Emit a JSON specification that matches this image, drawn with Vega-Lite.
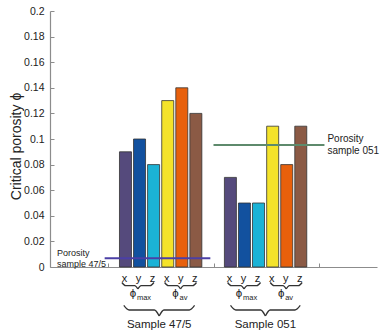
{
  "$schema": "https://vega.github.io/schema/vega-lite/v6.json",
  "width": 327,
  "height": 256,
  "autosize": {"type": "none"},
  "padding": {"left": 50, "top": 11, "right": 13, "bottom": 66},
  "config": {
    "view": {"stroke": null},
    "font": "Liberation Sans",
    "axis": {
      "domainColor": "#8c8c8c",
      "tickColor": "#8c8c8c",
      "labelColor": "#222222",
      "titleColor": "#222222",
      "labelFont": "Liberation Sans",
      "titleFont": "Liberation Sans",
      "labelOverlap": false,
      "grid": false
    },
    "axisQuantitative": {"labelOverlap": false},
    "axisLeft": {"labelOverlap": false}
  },
  "datasets": {
    "bars": [
      {"sample": "47/5", "key": "max-x", "dir": "x", "pos": 0.167, "phi": 0.09},
      {"sample": "47/5", "key": "max-y", "dir": "y", "pos": 0.300, "phi": 0.10},
      {"sample": "47/5", "key": "max-z", "dir": "z", "pos": 0.433, "phi": 0.08},
      {"sample": "47/5", "key": "av-x", "dir": "x", "pos": 0.567, "phi": 0.13},
      {"sample": "47/5", "key": "av-y", "dir": "y", "pos": 0.700, "phi": 0.14},
      {"sample": "47/5", "key": "av-z", "dir": "z", "pos": 0.833, "phi": 0.12},
      {"sample": "051", "key": "max-x", "dir": "x", "pos": 1.160, "phi": 0.07},
      {"sample": "051", "key": "max-y", "dir": "y", "pos": 1.293, "phi": 0.05},
      {"sample": "051", "key": "max-z", "dir": "z", "pos": 1.426, "phi": 0.05},
      {"sample": "051", "key": "av-x", "dir": "x", "pos": 1.560, "phi": 0.11},
      {"sample": "051", "key": "av-y", "dir": "y", "pos": 1.693, "phi": 0.08},
      {"sample": "051", "key": "av-z", "dir": "z", "pos": 1.826, "phi": 0.11}
    ],
    "porosity": [
      {"sample": "47/5", "label": ["Porosity", "sample 47/5"], "x0": -0.03, "x1": 0.97, "phi": 0.0068},
      {"sample": "051", "label": ["Porosity", "sample 051"], "x0": 1.0, "x1": 2.05, "phi": 0.0953}
    ],
    "stats": [
      {"pos": 0.2845, "sub": "max"},
      {"pos": 0.688, "sub": "av"},
      {"pos": 1.289, "sub": "max"},
      {"pos": 1.688, "sub": "av"}
    ],
    "samples": [
      {"pos": 0.486, "name": "Sample 47/5"},
      {"pos": 1.491, "name": "Sample 051"}
    ],
    "braces": [
      {"b": "s1L", "o": 0, "x": 0.133, "y": -0.0121}, {"b": "s1L", "o": 1, "x": 0.168, "y": -0.0146},
      {"b": "s1L", "o": 2, "x": 0.2545, "y": -0.0146}, {"b": "s1L", "o": 3, "x": 0.2845, "y": -0.0172},
      {"b": "s1R", "o": 0, "x": 0.2845, "y": -0.0172}, {"b": "s1R", "o": 1, "x": 0.3145, "y": -0.0146},
      {"b": "s1R", "o": 2, "x": 0.401, "y": -0.0146}, {"b": "s1R", "o": 3, "x": 0.436, "y": -0.0121},
      {"b": "s2L", "o": 0, "x": 0.537, "y": -0.0121}, {"b": "s2L", "o": 1, "x": 0.572, "y": -0.0146},
      {"b": "s2L", "o": 2, "x": 0.658, "y": -0.0146}, {"b": "s2L", "o": 3, "x": 0.688, "y": -0.0172},
      {"b": "s2R", "o": 0, "x": 0.688, "y": -0.0172}, {"b": "s2R", "o": 1, "x": 0.718, "y": -0.0146},
      {"b": "s2R", "o": 2, "x": 0.804, "y": -0.0146}, {"b": "s2R", "o": 3, "x": 0.839, "y": -0.0121},
      {"b": "s3L", "o": 0, "x": 1.133, "y": -0.0121}, {"b": "s3L", "o": 1, "x": 1.168, "y": -0.0146},
      {"b": "s3L", "o": 2, "x": 1.259, "y": -0.0146}, {"b": "s3L", "o": 3, "x": 1.289, "y": -0.0172},
      {"b": "s3R", "o": 0, "x": 1.289, "y": -0.0172}, {"b": "s3R", "o": 1, "x": 1.319, "y": -0.0146},
      {"b": "s3R", "o": 2, "x": 1.41, "y": -0.0146}, {"b": "s3R", "o": 3, "x": 1.445, "y": -0.0121},
      {"b": "s4L", "o": 0, "x": 1.537, "y": -0.0121}, {"b": "s4L", "o": 1, "x": 1.572, "y": -0.0146},
      {"b": "s4L", "o": 2, "x": 1.658, "y": -0.0146}, {"b": "s4L", "o": 3, "x": 1.688, "y": -0.0172},
      {"b": "s4R", "o": 0, "x": 1.688, "y": -0.0172}, {"b": "s4R", "o": 1, "x": 1.718, "y": -0.0146},
      {"b": "s4R", "o": 2, "x": 1.804, "y": -0.0146}, {"b": "s4R", "o": 3, "x": 1.839, "y": -0.0121},
      {"b": "b1L", "o": 0, "x": 0.151, "y": -0.0300}, {"b": "b1L", "o": 1, "x": 0.201, "y": -0.0336},
      {"b": "b1L", "o": 2, "x": 0.441, "y": -0.0336}, {"b": "b1L", "o": 3, "x": 0.486, "y": -0.0383},
      {"b": "b1R", "o": 0, "x": 0.486, "y": -0.0383}, {"b": "b1R", "o": 1, "x": 0.531, "y": -0.0336},
      {"b": "b1R", "o": 2, "x": 0.771, "y": -0.0336}, {"b": "b1R", "o": 3, "x": 0.821, "y": -0.0300},
      {"b": "b2L", "o": 0, "x": 1.161, "y": -0.0300}, {"b": "b2L", "o": 1, "x": 1.211, "y": -0.0336},
      {"b": "b2L", "o": 2, "x": 1.446, "y": -0.0336}, {"b": "b2L", "o": 3, "x": 1.491, "y": -0.0383},
      {"b": "b2R", "o": 0, "x": 1.491, "y": -0.0383}, {"b": "b2R", "o": 1, "x": 1.536, "y": -0.0336},
      {"b": "b2R", "o": 2, "x": 1.771, "y": -0.0336}, {"b": "b2R", "o": 3, "x": 1.821, "y": -0.0300}
    ]
  },
  "layer": [
    {
      "data": {"name": "bars"},
      "mark": {"type": "bar", "width": 12, "stroke": "#333333", "strokeWidth": 0.8},
      "encoding": {
        "x": {
          "field": "pos", "type": "quantitative",
          "scale": {"domain": [-0.5, 2.5], "nice": false, "zero": false},
          "axis": {"values": [0, 1, 2], "labels": false, "title": null, "tickSize": -4, "domainWidth": 1.2}
        },
        "y": {
          "field": "phi", "type": "quantitative",
          "scale": {"domain": [0, 0.2], "nice": false},
          "axis": {
            "tickCount": 10,
            "format": ".2~f", "tickSize": -4, "labelPadding": 10, "labelFontSize": 10.5,
            "labelOverlap": false, "labelBound": false,
            "title": "Critical porosity ϕ", "titleFontSize": 14, "titleFontWeight": "normal",
            "titleX": -34, "titleY": 135, "titleBaseline": "middle", "titleAngle": 270,
            "domainWidth": 1.2
          }
        },
        "color": {
          "field": "key", "type": "nominal", "legend": null,
          "scale": {
            "domain": ["max-x", "max-y", "max-z", "av-x", "av-y", "av-z"],
            "range": ["#554a7c", "#12519f", "#1bb3d6", "#f4e32a", "#e8600c", "#8b5a45"]
          }
        }
      }
    },
    {
      "data": {"name": "bars"},
      "mark": {"type": "text", "fontSize": 11, "baseline": "middle", "color": "#222222", "dx": -1},
      "encoding": {
        "x": {"field": "pos", "type": "quantitative"},
        "y": {"datum": -0.0094},
        "text": {"field": "dir"}
      }
    },
    {
      "data": {"name": "porosity"},
      "mark": {"type": "rule", "strokeWidth": 2},
      "encoding": {
        "x": {"field": "x0", "type": "quantitative"},
        "x2": {"field": "x1"},
        "y": {"field": "phi", "type": "quantitative"},
        "stroke": {
          "field": "sample", "type": "nominal", "legend": null,
          "scale": {"domain": ["47/5", "051"], "range": ["#4b3fa6", "#5e8a6c"]}
        }
      }
    },
    {
      "data": {"name": "porosity"},
      "transform": [{"filter": "datum.sample === '47/5'"}],
      "mark": {"type": "text", "align": "left", "baseline": "middle", "fontSize": 9, "lineHeight": 10.5, "dx": 2, "dy": -5, "color": "#222222"},
      "encoding": {
        "x": {"datum": -0.5},
        "y": {"field": "phi", "type": "quantitative"},
        "text": {"field": "label"}
      }
    },
    {
      "data": {"name": "porosity"},
      "transform": [{"filter": "datum.sample === '051'"}],
      "mark": {"type": "text", "align": "left", "baseline": "middle", "fontSize": 10, "lineHeight": 12, "dx": 3, "dy": -6, "color": "#222222"},
      "encoding": {
        "x": {"field": "x1", "type": "quantitative"},
        "y": {"field": "phi", "type": "quantitative"},
        "text": {"field": "label"}
      }
    },
    {
      "data": {"name": "braces"},
      "mark": {"type": "line", "interpolate": "monotone", "color": "#333333", "strokeWidth": 1.3},
      "encoding": {
        "x": {"field": "x", "type": "quantitative"},
        "y": {"field": "y", "type": "quantitative"},
        "detail": {"field": "b"},
        "order": {"field": "o"}
      }
    },
    {
      "data": {"name": "stats"},
      "mark": {"type": "text", "align": "center", "baseline": "middle", "fontSize": 11.5, "dx": -5, "color": "#222222"},
      "encoding": {
        "x": {"field": "pos", "type": "quantitative"},
        "y": {"datum": -0.0211},
        "text": {"value": "ϕ"}
      }
    },
    {
      "data": {"name": "stats"},
      "mark": {"type": "text", "align": "left", "baseline": "middle", "fontSize": 7.5, "dx": -1, "dy": 4, "color": "#222222"},
      "encoding": {
        "x": {"field": "pos", "type": "quantitative"},
        "y": {"datum": -0.0211},
        "text": {"field": "sub"}
      }
    },
    {
      "data": {"name": "samples"},
      "mark": {"type": "text", "align": "center", "baseline": "middle", "fontSize": 11.5, "color": "#222222"},
      "encoding": {
        "x": {"field": "pos", "type": "quantitative"},
        "y": {"datum": -0.0453},
        "text": {"field": "name"}
      }
    }
  ]
}
